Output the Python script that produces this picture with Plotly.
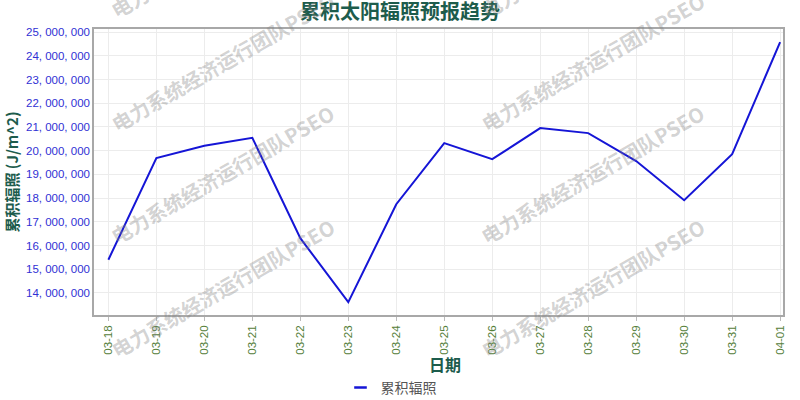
import plotly.graph_objects as go

dates = ["03-18", "03-19", "03-20", "03-21", "03-22", "03-23", "03-24", "03-25",
         "03-26", "03-27", "03-28", "03-29", "03-30", "03-31", "04-01"]
radiation = [15400000, 19690000, 20210000, 20540000, 16310000, 13610000, 17740000, 20320000,
             19640000, 20950000, 20740000, 19560000, 17910000, 19850000, 24580000]
y_ticks = [14000000, 15000000, 16000000, 17000000, 18000000, 19000000,
           20000000, 21000000, 22000000, 23000000, 24000000, 25000000]
y_ticktext = [f"{v:,}".replace(",", ", ") for v in y_ticks]

title_text = "累积太阳辐照预报趋势"
series_name = "累积辐照"
y_title = "累积辐照 (J/m^2)"
x_title = "日期"
watermark = "电力系统经济运行团队PSEO"

W, H = 800, 400
L, R, T, B = 94, 17, 29, 85
LINE_COLOR = "#1515d6"

fig = go.Figure()
fig.add_trace(go.Scatter(
    x=dates, y=radiation, mode="lines", name=series_name, showlegend=False,
    line=dict(color=LINE_COLOR, width=2),
))
# legend entry with a short dash
fig.add_trace(go.Scatter(
    x=[None], y=[None], mode="markers", name=series_name, showlegend=True,
    marker=dict(symbol="line-ew", size=9, line=dict(color=LINE_COLOR, width=2.5)),
))

def px2paper(px, py):
    return (px - L) / (W - L - R), (H - B - py) / (H - T - B)

annotations = []
for cx in (222, 592):
    for cy in (-51, 62, 175, 288):
        xp, yp = px2paper(cx, cy)
        annotations.append(dict(
            text=f"<b>{watermark}</b>", x=xp, y=yp, xref="paper", yref="paper",
            showarrow=False, textangle=-30, xanchor="center", yanchor="middle",
            font=dict(family="Noto Sans CJK SC", size=20, color="rgba(130,130,130,0.36)"),
        ))
xp, yp = px2paper(445, 364)
annotations.append(dict(
    text=f"<b>{x_title}</b>", x=xp, y=yp, xref="paper", yref="paper",
    showarrow=False, xanchor="center", yanchor="middle",
    font=dict(family="Noto Sans CJK SC", size=16, color="#1d5c4c"),
))
lx, ly = px2paper(391, 388)

fig.update_layout(
    width=W, height=H,
    margin=dict(l=L, r=R, t=T, b=B, autoexpand=False),
    paper_bgcolor="white", plot_bgcolor="white",
    title=dict(text=f"<b>{title_text}</b>", x=0.5, xanchor="center",
               yref="container", y=0.97, yanchor="middle",
               font=dict(family="Noto Sans CJK SC", size=20, color="#1d5c4c")),
    showlegend=True,
    legend=dict(orientation="h", x=lx, xanchor="center", y=ly, yanchor="middle",
                font=dict(family="Noto Sans CJK SC", size=14, color="#555555"),
                itemwidth=30, bgcolor="rgba(0,0,0,0)"),
    annotations=annotations,
    xaxis=dict(
        type="category", range=[-0.3, 14.06], automargin=False,
        tickangle=-90, tickfont=dict(family="Liberation Sans", size=11.5, color="#55803a"),
        showgrid=True, gridcolor="#ececec", gridwidth=1,
        showline=True, linecolor="#a8a8a8", linewidth=1.5, mirror=True,
        ticks="outside", ticklen=4, tickcolor="#bbbbbb",
    ),
    yaxis=dict(
        range=[13070000, 25130000], tickvals=y_ticks, ticktext=y_ticktext, automargin=False,
        tickfont=dict(family="Liberation Sans", size=11.5, color="#3030d4"),
        title=dict(text=f"<b>{y_title}</b>", standoff=4,
                   font=dict(family="Noto Sans CJK SC", size=15, color="#1d5c4c")),
        showgrid=True, gridcolor="#ececec", gridwidth=1,
        showline=True, linecolor="#a8a8a8", linewidth=1.5, mirror=True,
        ticks="", zeroline=False,
    ),
)

fig.write_html("out.html", config={"displayModeBar": False},
               post_script="document.body.style.margin='0';")
